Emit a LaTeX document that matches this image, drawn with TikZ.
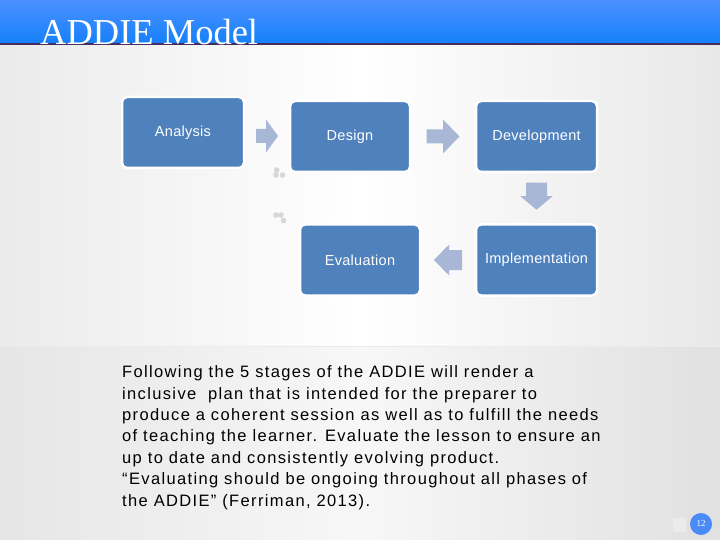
\documentclass[tikz,border=0pt]{standalone}
\usepackage{fontspec}
\setmainfont{Liberation Serif}
\newfontfamily\bodyfont[LetterSpace=8.2]{Liberation Sans}
\newfontfamily\boxfont[LetterSpace=2]{Liberation Sans}
\usetikzlibrary{calc}
\definecolor{boxblue}{RGB}{79,129,189}
\definecolor{arrowblue}{RGB}{167,183,213}
\definecolor{bartop}{RGB}{76,145,255}
\definecolor{barbot}{RGB}{22,128,250}
\definecolor{barline}{RGB}{70,45,95}
\definecolor{pageblue}{RGB}{74,139,245}
\definecolor{dotgray}{RGB}{215,215,215}
\begin{document}
\begin{tikzpicture}[x=1pt,y=-1pt,
  stage/.style={draw=white, line width=2.5pt, fill=boxblue, rounded corners=5pt,
    minimum width=120pt, minimum height=71pt, text=white, inner sep=0pt,
    font=\boxfont\fontsize{14.5}{16}\selectfont},
  blockarrow/.style={fill=arrowblue},
  deco/.style={fill=dotgray}]
\useasboundingbox (0,0) rectangle (720,540);
% background: wall
\fill[left color=black!8, right color=white] (0,45) rectangle (360.5,346);
\fill[left color=white, right color=black!9] (360,45) rectangle (720,346);
% background: floor
\fill[left color=black!10, right color=black!3] (0,346) rectangle (360.5,540);
\fill[left color=black!3, right color=black!12] (360,346) rectangle (720,540);
\draw[black!8, line width=1pt] (0,346.5) -- (720,346.5);
% title bar
\fill[top color=bartop, bottom color=barbot] (0,0) rectangle (720,43);
\fill[barline] (0,43) rectangle (720,45.5);
\node[anchor=base west, inner sep=0pt, text=white, font=\fontsize{36.5}{36}\selectfont] (title) at (40,45) {ADDIE Model};
% stages
\node[stage, minimum width=122pt] (an) at (183,132.5) {Analysis};
\node[stage] (de) at (350,136.5) {Design};
\node[stage, minimum width=121pt] (dv) at (536.5,136.5) {Development};
\node[stage] (ev) at (360,260) {Evaluation};
\node[stage, minimum width=121pt] (im) at (536.5,260) {Implementation};
% block arrows
\coordinate (m1) at ($(an.east)!0.5!(de.west)+(0,1.5)$);
\fill[blockarrow] ($(m1)+(-11,-7)$) -- ($(m1)+(-1,-7)$) -- ($(m1)+(-1,-16.5)$) -- ($(m1)+(11,0)$)
  -- ($(m1)+(-1,16.5)$) -- ($(m1)+(-1,7)$) -- ($(m1)+(-11,7)$) -- cycle;
\coordinate (m2) at ($(de.east)!0.5!(dv.west)$);
\fill[blockarrow] ($(m2)+(-16.5,-7)$) -- ($(m2)+(0,-7)$) -- ($(m2)+(0,-17)$) -- ($(m2)+(16.5,0)$)
  -- ($(m2)+(0,17)$) -- ($(m2)+(0,7)$) -- ($(m2)+(-16.5,7)$) -- cycle;
\coordinate (m3) at ($(dv.south)!0.5!(im.north)+(0,-2)$);
\fill[blockarrow] ($(m3)+(-10.5,-13.5)$) -- ($(m3)+(10.5,-13.5)$) -- ($(m3)+(10.5,0)$) -- ($(m3)+(16,0)$)
  -- ($(m3)+(0,13.5)$) -- ($(m3)+(-16,0)$) -- ($(m3)+(-10.5,0)$) -- cycle;
\coordinate (m4) at ($(im.west)!0.5!(ev.east)$);
\fill[blockarrow] ($(m4)+(14,-10)$) -- ($(m4)+(1,-10)$) -- ($(m4)+(1,-15.5)$) -- ($(m4)+(-14,0)$)
  -- ($(m4)+(1,15.5)$) -- ($(m4)+(1,10)$) -- ($(m4)+(14,10)$) -- cycle;
% small decorative dots
\fill[deco] (276.7,170) circle (2.8) (276,175) circle (2.8) (282.5,175) circle (2.8);
\fill[deco] (276,215) circle (2.8) (281,215) circle (2.8) (283.5,220.5) circle (2.8);
% paragraph
\node[anchor=north west, inner sep=0pt, align=left,
  font=\bodyfont\fontsize{16.5}{21.4}\selectfont] (txt) at (122,365.5) {%
Following the 5 stages of the ADDIE will render a\\
inclusive\ \ plan that is intended for the preparer to\\
produce a coherent session as well as to fulfill the needs\\
of teaching the learner. Evaluate the lesson to ensure an\\
up to date and consistently evolving product.\\
“Evaluating should be ongoing throughout all phases of\\
the ADDIE” (Ferriman, 2013).};
% page mark
\fill[black!8] (673,518) rectangle (686,532);
\node[circle, fill=pageblue, minimum size=22pt, inner sep=0pt, text=white,
  font=\fontsize{9}{9}\selectfont] (pg) at (701,524) {12};
\end{tikzpicture}
\end{document}
